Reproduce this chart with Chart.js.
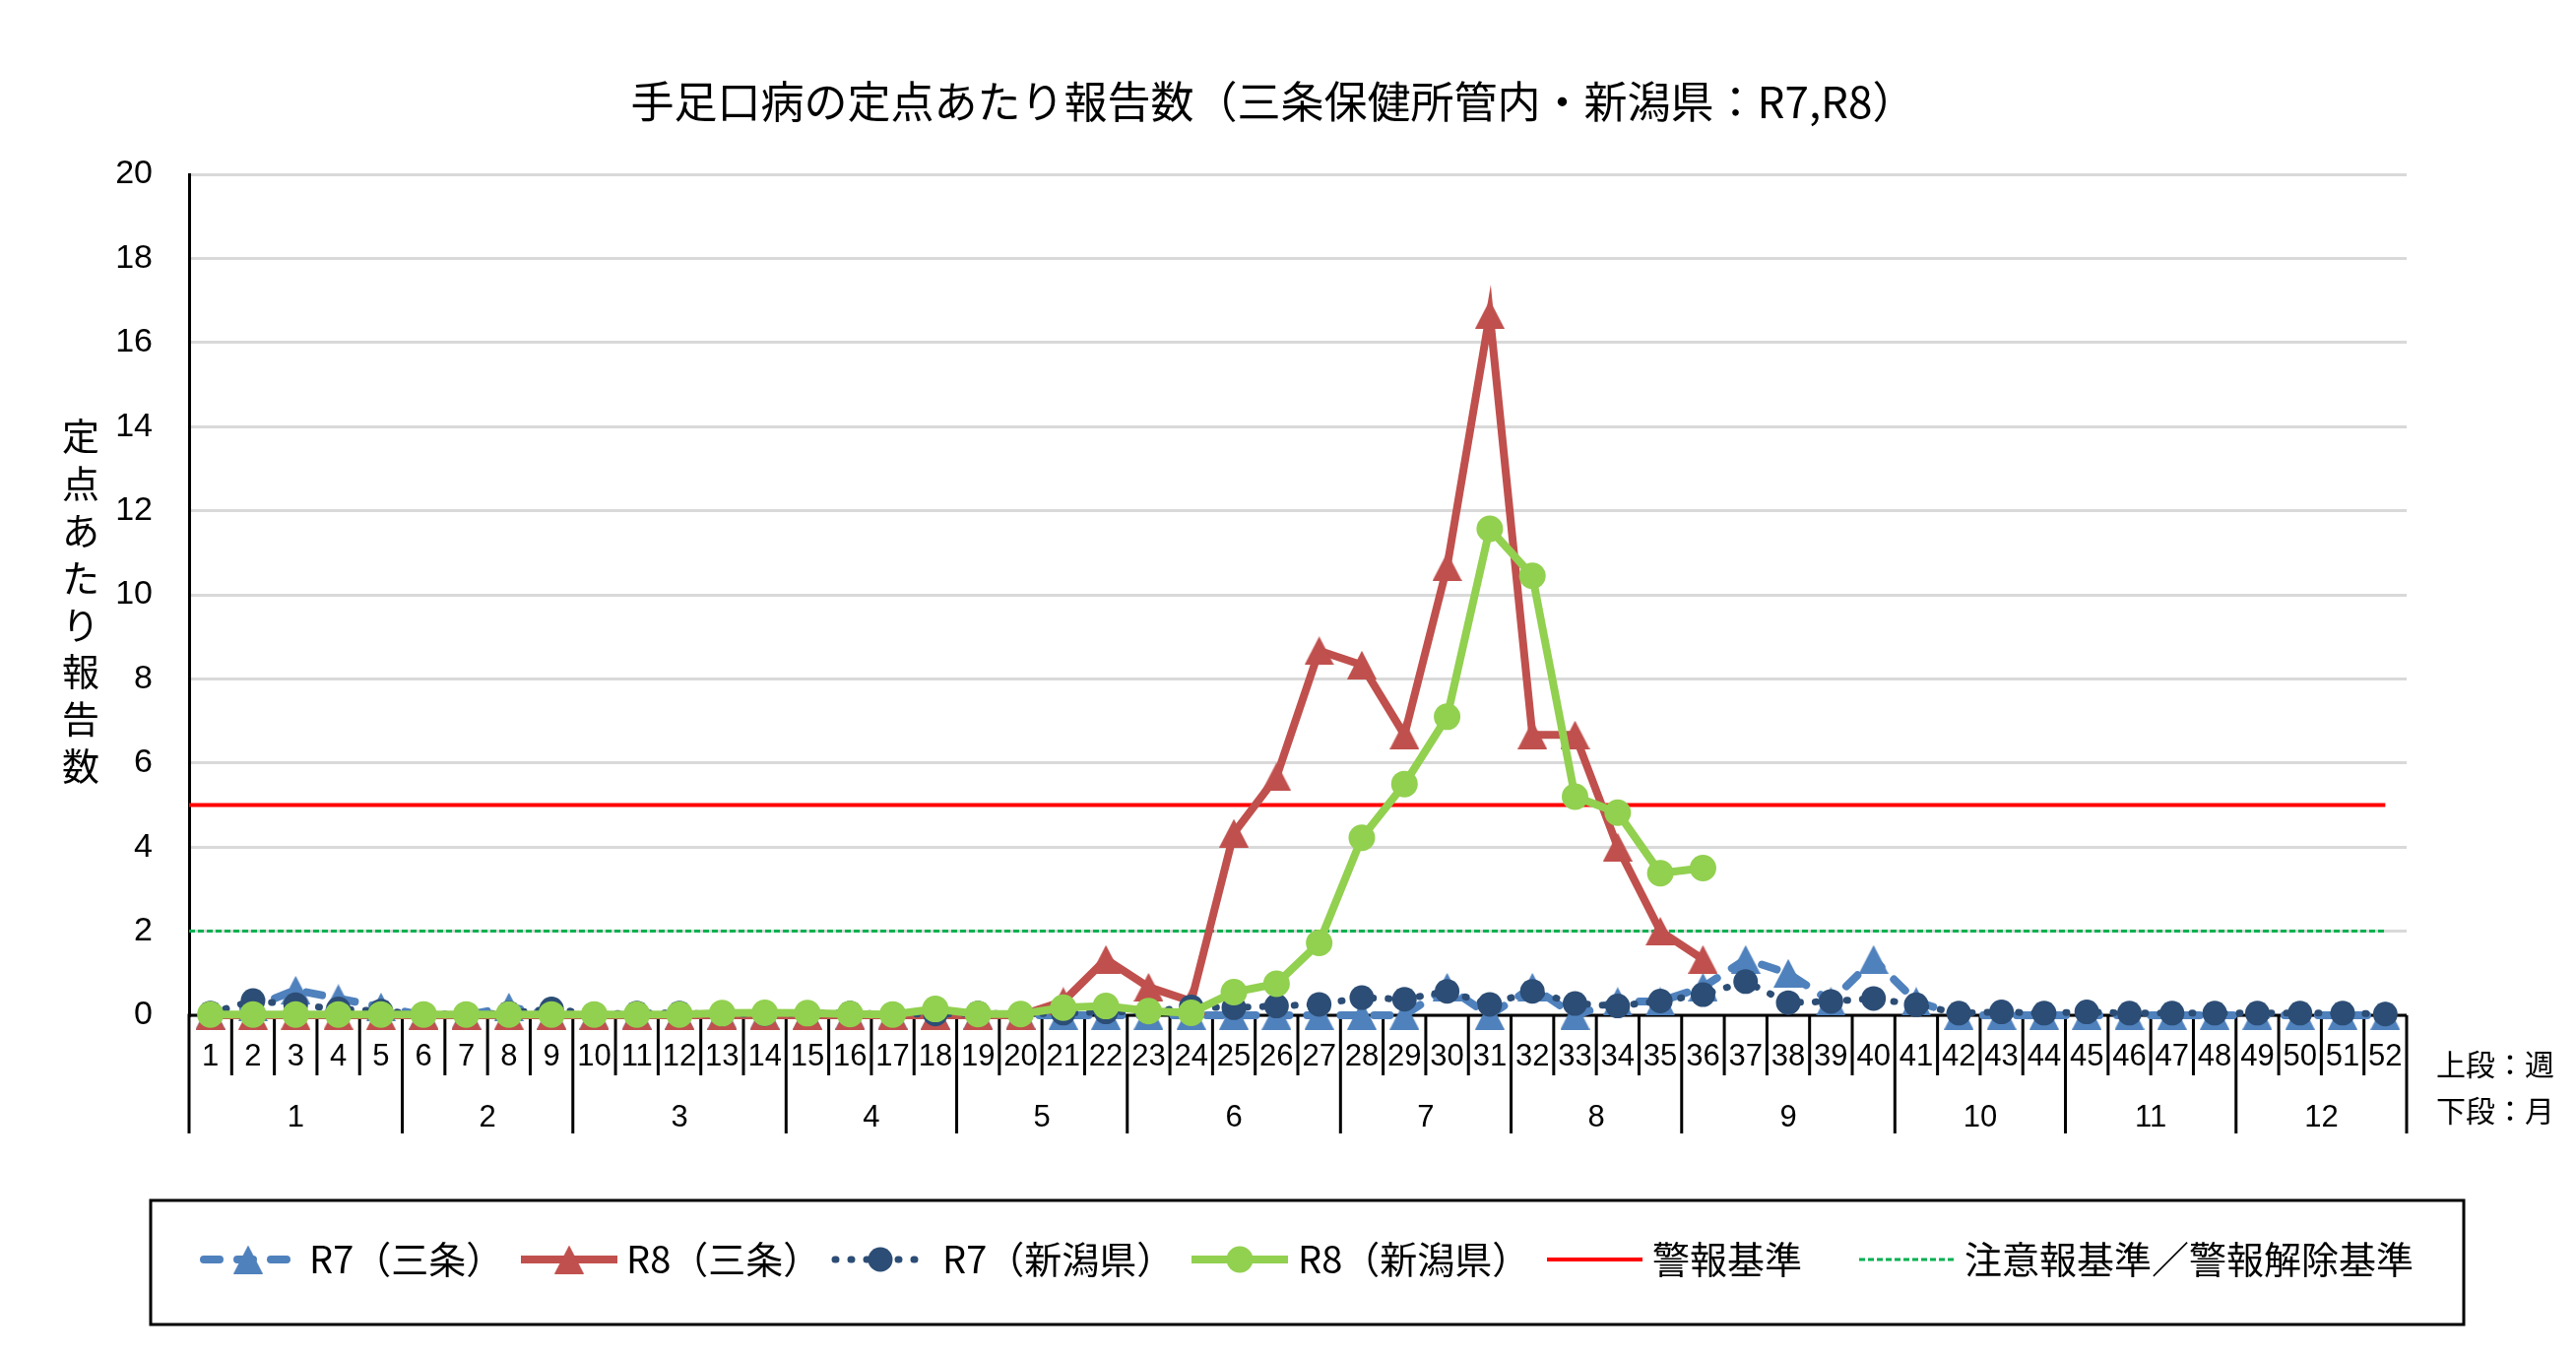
<!DOCTYPE html>
<html lang="ja">
<head>
<meta charset="utf-8">
<title>手足口病の定点あたり報告数</title>
<script src="https://cdn.jsdelivr.net/npm/chart.js@4.4.1/dist/chart.umd.min.js"></script>
<style>
  html, body { margin: 0; padding: 0; background: #fff; }
  #wrap { width: 2616px; height: 1377px; }
</style>
</head>
<body>
<div id="wrap"><canvas id="chart" width="2616" height="1377"></canvas></div>
<script>
// 週（上段）と月（下段）
const weekLabels = ['1','2','3','4','5','6','7','8','9','10','11','12','13','14','15','16','17','18','19','20',
  '21','22','23','24','25','26','27','28','29','30','31','32','33','34','35','36','37','38','39','40',
  '41','42','43','44','45','46','47','48','49','50','51','52'];
const monthLabels = ['1','2','3','4','5','6','7','8','9','10','11','12'];
const monthWeeks = [5, 4, 5, 4, 4, 5, 4, 4, 5, 4, 4, 4];

// 定点あたり報告数
const r7Sanjo = [0, 0.2, 0.6, 0.4, 0.2, 0, 0, 0.2, 0, 0,
  0, 0, 0, 0, 0, 0, 0, 0, 0, 0,
  0, 0, 0, 0, 0, 0, 0, 0, 0, 0.67,
  0, 0.67, 0, 0.33, 0.33, 0.67, 1.33, 1.0, 0.33, 1.33,
  0.33, 0, 0, 0, 0, 0, 0, 0, 0, 0, 0, 0];
const r8Sanjo = [0, 0, 0, 0, 0, 0, 0, 0, 0, 0,
  0, 0, 0, 0, 0, 0, 0, 0, 0, 0,
  0.33, 1.33, 0.67, 0.33, 4.33, 5.67, 8.67, 8.33, 6.67, 10.67,
  16.67, 6.67, 6.67, 4.0, 2.0, 1.33];
const r7Niigata = [0.05, 0.35, 0.25, 0.15, 0.1, 0.03, 0.03, 0.05, 0.15, 0.03,
  0.05, 0.05, 0.03, 0.03, 0.05, 0.05, 0.03, 0.03, 0.05, 0.03,
  0.05, 0.08, 0.08, 0.2, 0.18, 0.22, 0.26, 0.42, 0.38, 0.57,
  0.26, 0.57, 0.28, 0.22, 0.34, 0.49, 0.8, 0.3, 0.33, 0.4,
  0.25, 0.05, 0.08, 0.05, 0.08, 0.05, 0.05, 0.05, 0.05, 0.05, 0.05, 0.03];
const r8Niigata = [0.02, 0.02, 0.02, 0.02, 0.02, 0.02, 0.02, 0.02, 0.02, 0.02,
  0.02, 0.02, 0.05, 0.06, 0.05, 0.03, 0.02, 0.15, 0.03, 0.03,
  0.18, 0.22, 0.1, 0.06, 0.55, 0.75, 1.72, 4.22, 5.5, 7.1,
  11.57, 10.45, 5.2, 4.82, 3.38, 3.5];

// 基準値
const alarmLevel = 5;
const warningLevel = 2;

const jp = '"Noto Sans CJK JP", "Noto Sans", sans-serif';
const latin = '"Liberation Sans", Arial, sans-serif';

// Excel風の三角マーカー（外接枠の中心に値が来る）
function triangleImage(color) {
  const c = document.createElement('canvas');
  c.width = 30;
  c.height = 29;
  const g = c.getContext('2d');
  g.fillStyle = color;
  g.beginPath();
  g.moveTo(15, 0);
  g.lineTo(30, 29);
  g.lineTo(0, 29);
  g.closePath();
  g.fill();
  return c;
}

const datasets = [
  { label: 'R7（三条）', data: r7Sanjo, borderColor: '#4F81BD', backgroundColor: '#4F81BD',
    borderWidth: 8, borderDash: [16, 18], borderCapStyle: 'round',
    pointStyle: triangleImage('#4F81BD'), pointRadius: 15, order: 5, clip: false },
  { label: 'R8（三条）', data: r8Sanjo, borderColor: '#C0504D', backgroundColor: '#C0504D',
    borderWidth: 8, pointStyle: triangleImage('#C0504D'), pointRadius: 15, order: 4, clip: false },
  { label: 'R7（新潟県）', data: r7Niigata, borderColor: '#2C4D75', backgroundColor: '#2C4D75',
    borderWidth: 7, borderDash: [1, 15], borderCapStyle: 'round',
    pointStyle: 'circle', pointRadius: 12.5, pointBorderWidth: 0, order: 3, clip: false },
  { label: 'R8（新潟県）', data: r8Niigata, borderColor: '#92D050', backgroundColor: '#92D050',
    borderWidth: 8, pointStyle: 'circle', pointRadius: 13.5, pointBorderWidth: 0, order: 2, clip: false },
  { label: '警報基準', data: [{x: 0, y: alarmLevel}, {x: 51.5, y: alarmLevel}], xAxisID: 'x2',
    borderColor: '#FF0000', backgroundColor: '#FF0000', borderWidth: 4, pointRadius: 0, order: 10 },
  { label: '注意報基準／警報解除基準', data: [{x: 0, y: warningLevel}, {x: 51.5, y: warningLevel}], xAxisID: 'x2',
    borderColor: '#00B050', backgroundColor: '#00B050', borderWidth: 3, borderDash: [6, 3], pointRadius: 0, order: 11 }
];

// 凡例の位置（サンプル線の左右端、文字の左端）
const legendPos = [
  [207, 297, 314], [529, 627, 636], [848, 940, 957],
  [1210, 1308, 1318], [1571, 1668, 1678], [1888, 1985, 1995]
];

const decor = {
  id: 'decor',
  beforeDatasetsDraw(chart) {
    const {ctx, chartArea: a, scales: {x}} = chart;
    const step = x.getPixelForValue(1) - x.getPixelForValue(0);
    const edge = k => x.getPixelForValue(0) - step / 2 + k * step;
    ctx.save();
    ctx.strokeStyle = '#000';
    ctx.lineWidth = 3;
    ctx.beginPath();
    ctx.moveTo(a.left - 1.5, a.bottom);
    ctx.lineTo(a.right, a.bottom);
    for (let k = 1; k <= weekLabels.length; k++) {
      ctx.moveTo(edge(k), a.bottom);
      ctx.lineTo(edge(k), a.bottom + 61);
    }
    let k = 0;
    monthWeeks.forEach(n => {
      k += n;
      ctx.moveTo(edge(k), a.bottom);
      ctx.lineTo(edge(k), a.bottom + 120);
    });
    ctx.moveTo(a.left, a.bottom);
    ctx.lineTo(a.left, a.bottom + 120);
    ctx.stroke();
    ctx.restore();
  },
  afterDraw(chart) {
    const {ctx, chartArea: a, scales: {x}} = chart;
    const step = x.getPixelForValue(1) - x.getPixelForValue(0);
    ctx.save();
    ctx.fillStyle = '#000';
    ctx.textBaseline = 'middle';

    // タイトル
    ctx.textAlign = 'center';
    ctx.font = '44px ' + jp;
    ctx.fillText('手足口病の定点あたり報告数（三条保健所管内・新潟県：R7,R8）', 1293, 103);

    // 縦軸タイトル（縦書き）
    ctx.font = '38px ' + jp;
    [...'定点あたり報告数'].forEach((c, i) => ctx.fillText(c, 82, 443 + i * 47.8));

    // 週ラベル
    ctx.font = '31px ' + latin;
    weekLabels.forEach((w, i) => ctx.fillText(w, x.getPixelForValue(i), a.bottom + 42));

    // 月ラベル
    let k = 0;
    monthLabels.forEach((m, i) => {
      const mid = x.getPixelForValue(k) - step / 2 + monthWeeks[i] * step / 2;
      ctx.fillText(m, mid, a.bottom + 104);
      k += monthWeeks[i];
    });

    ctx.textAlign = 'left';
    ctx.font = '30px ' + jp;
    ctx.fillText('上段：週', 2474, 1081);
    ctx.fillText('下段：月', 2474, 1128);

    // 凡例
    ctx.strokeStyle = '#000';
    ctx.lineWidth = 3;
    ctx.strokeRect(153, 1219, 2502 - 153, 1345 - 1219);
    const ly = 1279;
    chart.data.datasets.forEach((ds, i) => {
      const [x1, x2, tx] = legendPos[i];
      ctx.save();
      ctx.strokeStyle = ds.borderColor;
      ctx.lineWidth = ds.borderWidth;
      ctx.lineCap = ds.borderCapStyle || 'butt';
      ctx.setLineDash(ds.borderDash || []);
      ctx.beginPath();
      ctx.moveTo(x1, ly);
      ctx.lineTo(x2, ly);
      ctx.stroke();
      const cx = (x1 + x2) / 2;
      if (ds.pointStyle instanceof HTMLCanvasElement) {
        ctx.drawImage(ds.pointStyle, cx - ds.pointStyle.width / 2, ly - ds.pointStyle.height / 2);
      } else if (ds.pointRadius) {
        ctx.fillStyle = ds.backgroundColor;
        ctx.beginPath();
        ctx.arc(cx, ly, ds.pointRadius, 0, Math.PI * 2);
        ctx.fill();
      }
      ctx.restore();
      ctx.font = '38px ' + jp;
      ctx.fillText(ds.label, tx, ly);
    });
    ctx.restore();
  }
};

new Chart(document.getElementById('chart'), {
  type: 'line',
  data: { labels: weekLabels, datasets: datasets },
  options: {
    responsive: false,
    devicePixelRatio: 1,
    animation: false,
    events: [],
    elements: { line: { tension: 0 } },
    layout: { padding: { top: 177, right: 172, bottom: 346, left: 0 } },
    plugins: { legend: { display: false }, tooltip: { enabled: false }, title: { display: false } },
    scales: {
      x: { type: 'category', offset: true, display: false },
      x2: { type: 'linear', min: 0, max: 52, display: false },
      y: {
        min: 0, max: 20,
        ticks: { stepSize: 2, color: '#000', padding: 37, font: { family: latin, size: 34 } },
        grid: { color: '#D9D9D9', lineWidth: 3, drawTicks: false },
        border: { color: '#000', width: 3 },
        afterFit(scale) { scale.width = 192; }
      }
    }
  },
  plugins: [decor]
});
</script>
</body>
</html>
